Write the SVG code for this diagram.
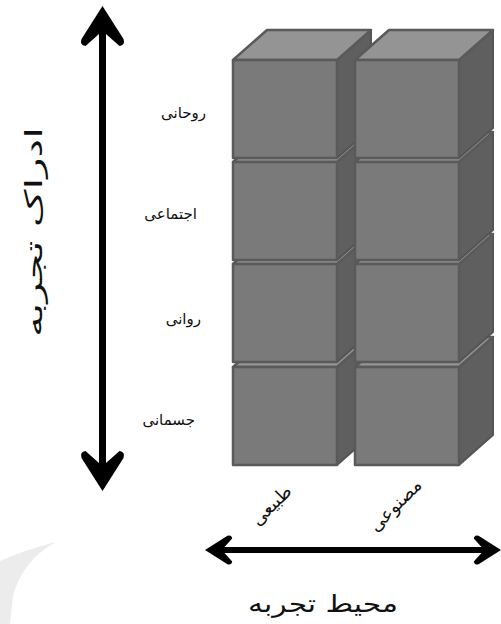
<svg xmlns="http://www.w3.org/2000/svg" xmlns:xlink="http://www.w3.org/1999/xlink" width="501" height="624" viewBox="0 0 501 624">
<style>
.front{fill:#7a7a7a;stroke:#5a5a5a;stroke-width:2.5;stroke-linejoin:round}
.side{fill:#5f5f5f;stroke:#555;stroke-width:2;stroke-linejoin:round}
.top{fill:#949494;stroke:#5a5a5a;stroke-width:2.5;stroke-linejoin:round}
.lbl{font-family:"DejaVu Sans",sans-serif;font-size:15px;fill:#111}
.diag{font-family:"DejaVu Sans",sans-serif;font-size:18px;fill:#111}
.axis{font-family:"DejaVu Sans",sans-serif;font-size:24px;fill:#111}
.shaft{stroke:#000;stroke-width:7;fill:none}
.head{fill:#000}
</style>
<defs>
<path id="ah" d="M0,0 L21,33 Q23,39 17,40 L3.5,28 L-3.5,28 L-17,40 Q-23,39 -21,33 Z"/>
<g id="cube">
<path class="side" d="M104,0 L138,-30 L138,68 L104,98 Z"/>
<path class="top" d="M0,0 L34,-30 L138,-30 L104,0 Z"/>
<rect class="front" x="0" y="0" width="104" height="98"/>
</g>
</defs>
<rect width="501" height="624" fill="#fff"/>
<path id="watermark" d="M0,561 C20,552 40,546 56,542 C36,553 20,570 13,596 L10,624 L0,624 Z" fill="#ececec"/>
<g id="column-tabiei">
<use xlink:href="#cube" x="233" y="367"/>
<use xlink:href="#cube" x="233" y="264"/>
<use xlink:href="#cube" x="233" y="162"/>
<use xlink:href="#cube" x="233" y="60"/>
</g>
<g id="column-masnooi">
<use xlink:href="#cube" x="355" y="367"/>
<use xlink:href="#cube" x="355" y="264"/>
<use xlink:href="#cube" x="355" y="162"/>
<use xlink:href="#cube" x="355" y="60"/>
</g>
<g id="connectors">
<line class="shaft" x1="102.5" y1="30" x2="102.5" y2="466"/>
<use xlink:href="#ah" class="head" transform="translate(102.5,6)"/>
<use xlink:href="#ah" class="head" transform="translate(102.5,491) rotate(180)"/>
<line x1="222" y1="550" x2="484" y2="550" stroke="#000" stroke-width="6"/>
<use xlink:href="#ah" class="head" transform="translate(205,550) rotate(-90) scale(0.68)"/>
<use xlink:href="#ah" class="head" transform="translate(501,550) rotate(90) scale(0.68)"/>
</g>
<g id="labels">
<text class="lbl" x="206" y="118" text-anchor="end">روحانی</text>
<text class="lbl" x="197" y="219" text-anchor="end">اجتماعی</text>
<text class="lbl" x="201" y="324" text-anchor="end">روانی</text>
<text class="lbl" x="195" y="425" text-anchor="end">جسمانی</text>
<text class="diag" transform="translate(272,506) rotate(-45)" text-anchor="middle" dominant-baseline="middle">طبیعی</text>
<text class="diag" transform="translate(396,506) rotate(-45)" text-anchor="middle" dominant-baseline="middle">مصنوعی</text>
<text class="axis" x="323" y="612" text-anchor="middle" textLength="150" lengthAdjust="spacingAndGlyphs">محیط تجربه</text>
<text class="axis" transform="translate(35,232) rotate(-90)" text-anchor="middle" dominant-baseline="middle" textLength="210" lengthAdjust="spacingAndGlyphs">ادراک تجربه</text>
</g>
</svg>
